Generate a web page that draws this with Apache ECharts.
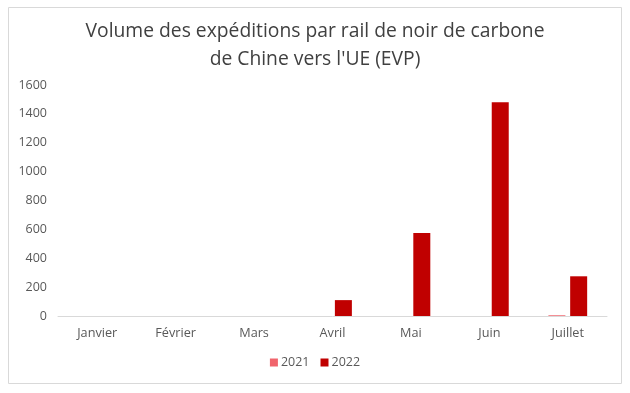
<!DOCTYPE html>
<html><head><meta charset="utf-8">
<script src="https://cdn.jsdelivr.net/npm/echarts@6/dist/echarts.min.js"></script>
<style>html,body{margin:0;padding:0;background:#fff}#c{width:630px;height:393px}</style>
</head><body><div id="c"></div>
<script>
const categories = ['Janvier','Février','Mars','Avril','Mai','Juin','Juillet'];
const values2021 = [0,0,0,0,0,0,5];
const values2022 = [0,0,0,110,575,1480,275];
const yTicks = [0,200,400,600,800,1000,1200,1400,1600];

const chart = echarts.init(document.getElementById('c'), null, {renderer:'canvas'});
chart.setOption({
  animation:false,
  textStyle:{fontFamily:'Open Sans'},
  graphic:[{type:'rect',shape:{x:8.5,y:7.5,width:613,height:376},style:{fill:'none',stroke:'#d9d9d9',lineWidth:1}}],
  title:{text:"Volume des expéditions par rail de noir de carbone\nde Chine vers l'UE (EVP)",left:'center',top:13,
    textStyle:{fontFamily:'Open Sans',fontSize:19.3,fontWeight:'normal',color:'#404040',lineHeight:28}},
  legend:{bottom:19,left:'center',itemWidth:8,itemHeight:8,itemGap:11,icon:'rect',
    textStyle:{fontFamily:'Open Sans',fontSize:12.5,color:'#595959',padding:[0,0,0,-2]}},
  grid:{left:58,right:23,top:85,bottom:77},
  xAxis:{type:'category',data:categories,axisTick:{show:false},
    axisLine:{lineStyle:{color:'#d9d9d9'}},
    axisLabel:{fontFamily:'Open Sans',fontSize:12.7,color:'#595959',margin:11}},
  yAxis:{type:'value',min:yTicks[0],max:yTicks[yTicks.length-1],interval:200,splitLine:{show:false},
    axisLine:{show:false},axisTick:{show:false},
    axisLabel:{fontFamily:'Open Sans',fontSize:12.5,color:'#595959',margin:11,formatter:v=>String(v)}},
  series:[
    {name:'2021',type:'bar',data:values2021,barWidth:17,barGap:'28%',itemStyle:{color:'#f0646c'}},
    {name:'2022',type:'bar',data:values2022,barWidth:17,itemStyle:{color:'#c00000'}}
  ]
});
</script></body></html>
